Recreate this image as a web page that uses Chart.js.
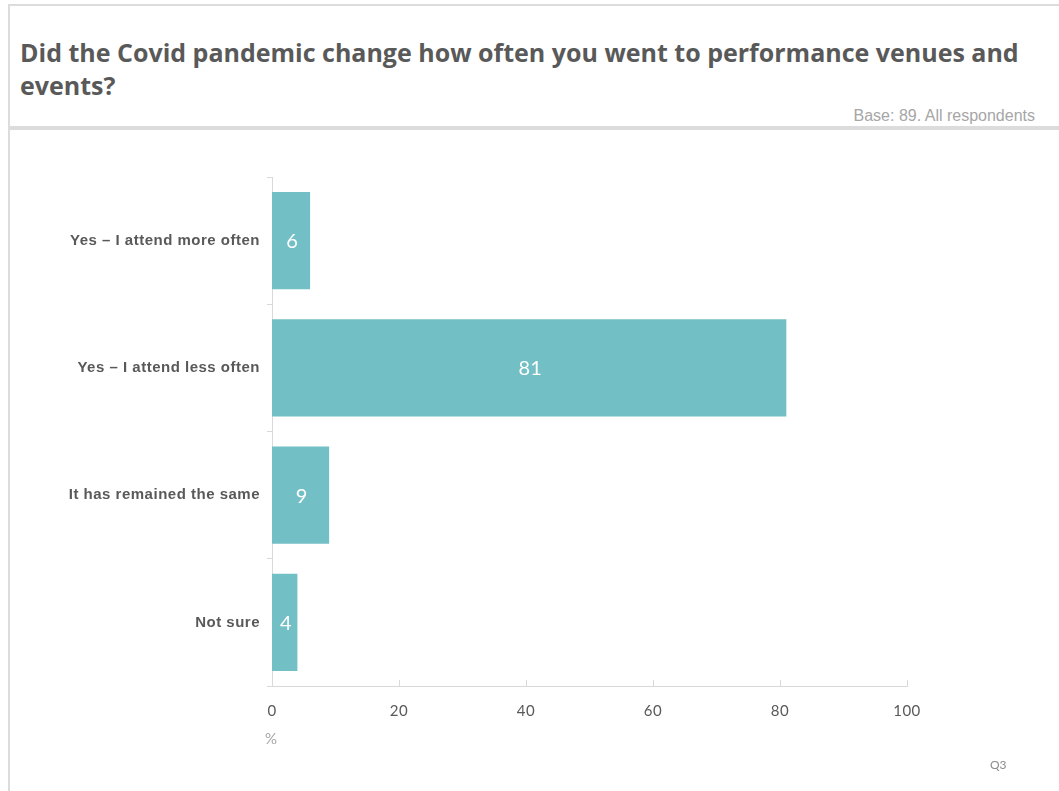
<!DOCTYPE html>
<html>
<head>
<meta charset="utf-8">
<title>Covid and attendance</title>
<script src="https://cdn.jsdelivr.net/npm/chart.js@4/dist/chart.umd.min.js"></script>
<style>
    html, body { margin: 0; padding: 0; background: #fff; }
    #page { position: relative; width: 1059px; height: 791px; overflow: hidden; }
    #frame { position: absolute; left: 8px; top: 4px; right: -4px; bottom: -4px; border-left: 2px solid #dcdcdc; border-top: 2px solid #dcdcdc; }
    #rule { position: absolute; left: 10px; right: 0; top: 126px; height: 4px; background: #dcdcdc; }
    #title { position: absolute; left: 20px; top: 36px; width: 1015px; font-family: "Open Sans", sans-serif; font-weight: bold; font-size: 25px; line-height: 33px; color: #595959; }
    #base { position: absolute; right: 24px; top: 107px; font-family: "Liberation Sans", sans-serif; font-size: 16px; color: #a6a6a6; }
    #unit { position: absolute; left: 265px; top: 729px; font-family: Lato, sans-serif; font-size: 15px; color: #a6a6a6; }
    #qref { position: absolute; left: 990px; top: 757px; font-family: Lato, sans-serif; font-size: 12px; color: #8c8c8c; }
    #chartBox { position: absolute; left: 0; top: 0; width: 1059px; height: 791px; }
</style>
</head>
<body>
<div id="page">
    <div id="frame"></div>
    <div id="title">Did the Covid pandemic change how often you went to performance venues and events?</div>
    <div id="base">Base: 89. All respondents</div>
    <div id="rule"></div>
    <div id="chartBox"><canvas id="attendChart" width="1059" height="791"></canvas></div>
    <div id="unit">%</div>
    <div id="qref">Q3</div>
</div>
<script>
// Dados do gráfico
const categories = ['Yes \u2013 I attend more often', 'Yes \u2013 I attend less often', 'It has remained the same', 'Not sure'];
const percentages = [6, 81, 9, 4];
const xTicks = [0, 20, 40, 60, 80, 100];

const barColor = '#72bfc5';
const axisColor = '#d9d9d9';

// Espaçamento extra entre letras nos rótulos dos eixos
const axisSpacing = {
    id: 'axisSpacing',
    beforeDraw(chart) { chart.ctx.letterSpacing = '0.5px'; },
    beforeDatasetsDraw(chart) { chart.ctx.letterSpacing = '0px'; }
};

// Rótulos brancos no centro de cada barra
const barLabels = {
    id: 'barLabels',
    afterDatasetsDraw(chart) {
        const ctx = chart.ctx;
        const meta = chart.getDatasetMeta(0);
        ctx.save();
        ctx.fillStyle = '#ffffff';
        ctx.font = '20px Lato, sans-serif';
        ctx.textAlign = 'center';
        ctx.textBaseline = 'middle';
        meta.data.forEach(function(bar, i) {
            const cx = (bar.x + bar.base) / 2;
            ctx.fillText(String(percentages[i]), cx + 1, bar.y + 1);
        });
        ctx.restore();
    }
};

// Pequenas marcas do eixo x voltadas para dentro
const innerTicks = {
    id: 'innerTicks',
    afterDraw(chart) {
        const ctx = chart.ctx;
        const xScale = chart.scales.x;
        const bottom = chart.chartArea.bottom;
        ctx.save();
        ctx.strokeStyle = axisColor;
        ctx.lineWidth = 1;
        xTicks.forEach(function(v) {
            if (v === 0) return;
            const px = Math.round(xScale.getPixelForValue(v)) + 0.5;
            ctx.beginPath();
            ctx.moveTo(px, bottom - 6);
            ctx.lineTo(px, bottom);
            ctx.stroke();
        });
        ctx.restore();
    }
};

const ctx = document.getElementById('attendChart').getContext('2d');
new Chart(ctx, {
    type: 'bar',
    data: {
        labels: categories,
        datasets: [{
            data: percentages,
            backgroundColor: barColor,
            borderWidth: 0,
            categoryPercentage: 1,
            barPercentage: 0.765
        }]
    },
    options: {
        indexAxis: 'y',
        responsive: false,
        animation: false,
        devicePixelRatio: 1,
        layout: {
            padding: { left: 0, right: 152, top: 177, bottom: 65 }
        },
        scales: {
            x: {
                min: 0,
                max: 100,
                afterBuildTicks(scale) {
                    scale.ticks = xTicks.map(v => ({ value: v }));
                },
                afterFit(scale) { scale.height = 40; },
                grid: { display: false, drawTicks: false },
                border: { display: true, color: axisColor, width: 1 },
                ticks: {
                    padding: 16,
                    color: '#595959',
                    font: { family: 'Lato, sans-serif', size: 15 }
                }
            },
            y: {
                afterFit(scale) { scale.width = 272; },
                grid: {
                    display: true,
                    drawOnChartArea: false,
                    drawTicks: true,
                    tickLength: 5,
                    color: axisColor,
                    offset: true
                },
                border: { display: true, color: axisColor, width: 1 },
                ticks: {
                    padding: 7,
                    color: '#595959',
                    font: { family: '"Liberation Sans", Arial, sans-serif', size: 15, weight: 'bold' }
                }
            }
        },
        plugins: {
            legend: { display: false },
            tooltip: { enabled: false }
        }
    },
    plugins: [axisSpacing, barLabels, innerTicks]
});
</script>
</body>
</html>
